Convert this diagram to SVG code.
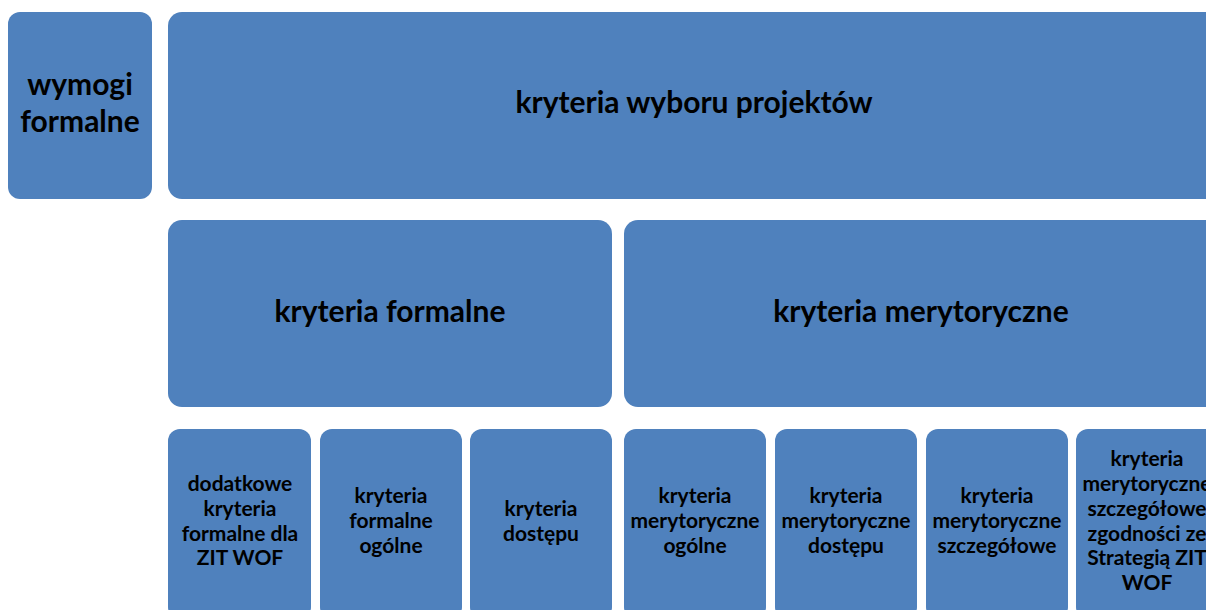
<svg xmlns="http://www.w3.org/2000/svg" width="1206" height="610" viewBox="0 0 1206 610">
<style>
.b{fill:#4F81BD;}
.t{font-family:Lato,"Liberation Sans",sans-serif;font-weight:bold;fill:#000;text-anchor:middle;}
.l{font-size:30px;}
.m{font-size:30px;}
.s{font-size:21px;}
</style>
<rect width="1206" height="610" fill="#fff"/>
<g id="wymogi"><rect class="b" x="8" y="12" width="144" height="187" rx="12"/>
<text class="t m" x="80" y="95">wymogi</text><text class="t m" x="80" y="132">formalne</text></g>
<g id="wybor"><rect class="b" x="168" y="12" width="1052" height="187" rx="14"/>
<text class="t l" x="694" y="113">kryteria wyboru projektów</text></g>
<g id="formalne"><rect class="b" x="168" y="220" width="444" height="187" rx="14"/>
<text class="t l" x="390" y="322">kryteria formalne</text></g>
<g id="merytoryczne"><rect class="b" x="624" y="220" width="596" height="187" rx="14"/>
<text class="t l" x="921" y="322">kryteria merytoryczne</text></g>
<g id="b1"><rect class="b" x="168" y="429" width="143" height="190" rx="12"/>
<text class="t s" x="240" y="491">dodatkowe</text><text class="t s" x="240" y="516">kryteria</text><text class="t s" x="240" y="541">formalne dla</text><text class="t s" x="240" y="565">ZIT WOF</text></g>
<g id="b2"><rect class="b" x="320" y="429" width="142" height="190" rx="12"/>
<text class="t s" x="391" y="503">kryteria</text><text class="t s" x="391" y="528">formalne</text><text class="t s" x="391" y="553">ogólne</text></g>
<g id="b3"><rect class="b" x="470" y="429" width="142" height="190" rx="12"/>
<text class="t s" x="541" y="516">kryteria</text><text class="t s" x="541" y="541">dostępu</text></g>
<g id="b4"><rect class="b" x="624" y="429" width="142" height="190" rx="12"/>
<text class="t s" x="695" y="503">kryteria</text><text class="t s" x="695" y="528">merytoryczne</text><text class="t s" x="695" y="553">ogólne</text></g>
<g id="b5"><rect class="b" x="775" y="429" width="142" height="190" rx="12"/>
<text class="t s" x="846" y="503">kryteria</text><text class="t s" x="846" y="528">merytoryczne</text><text class="t s" x="846" y="553">dostępu</text></g>
<g id="b6"><rect class="b" x="926" y="429" width="142" height="190" rx="12"/>
<text class="t s" x="997" y="503">kryteria</text><text class="t s" x="997" y="528">merytoryczne</text><text class="t s" x="997" y="553">szczegółowe</text></g>
<g id="b7"><rect class="b" x="1076" y="429" width="142" height="190" rx="12"/>
<text class="t s" x="1147" y="466">kryteria</text><text class="t s" x="1147" y="491">merytoryczne</text><text class="t s" x="1147" y="516">szczegółowe</text><text class="t s" x="1147" y="541">zgodności ze</text><text class="t s" x="1147" y="565">Strategią ZIT</text><text class="t s" x="1147" y="590">WOF</text></g>
<g id="connectors"/>
</svg>
